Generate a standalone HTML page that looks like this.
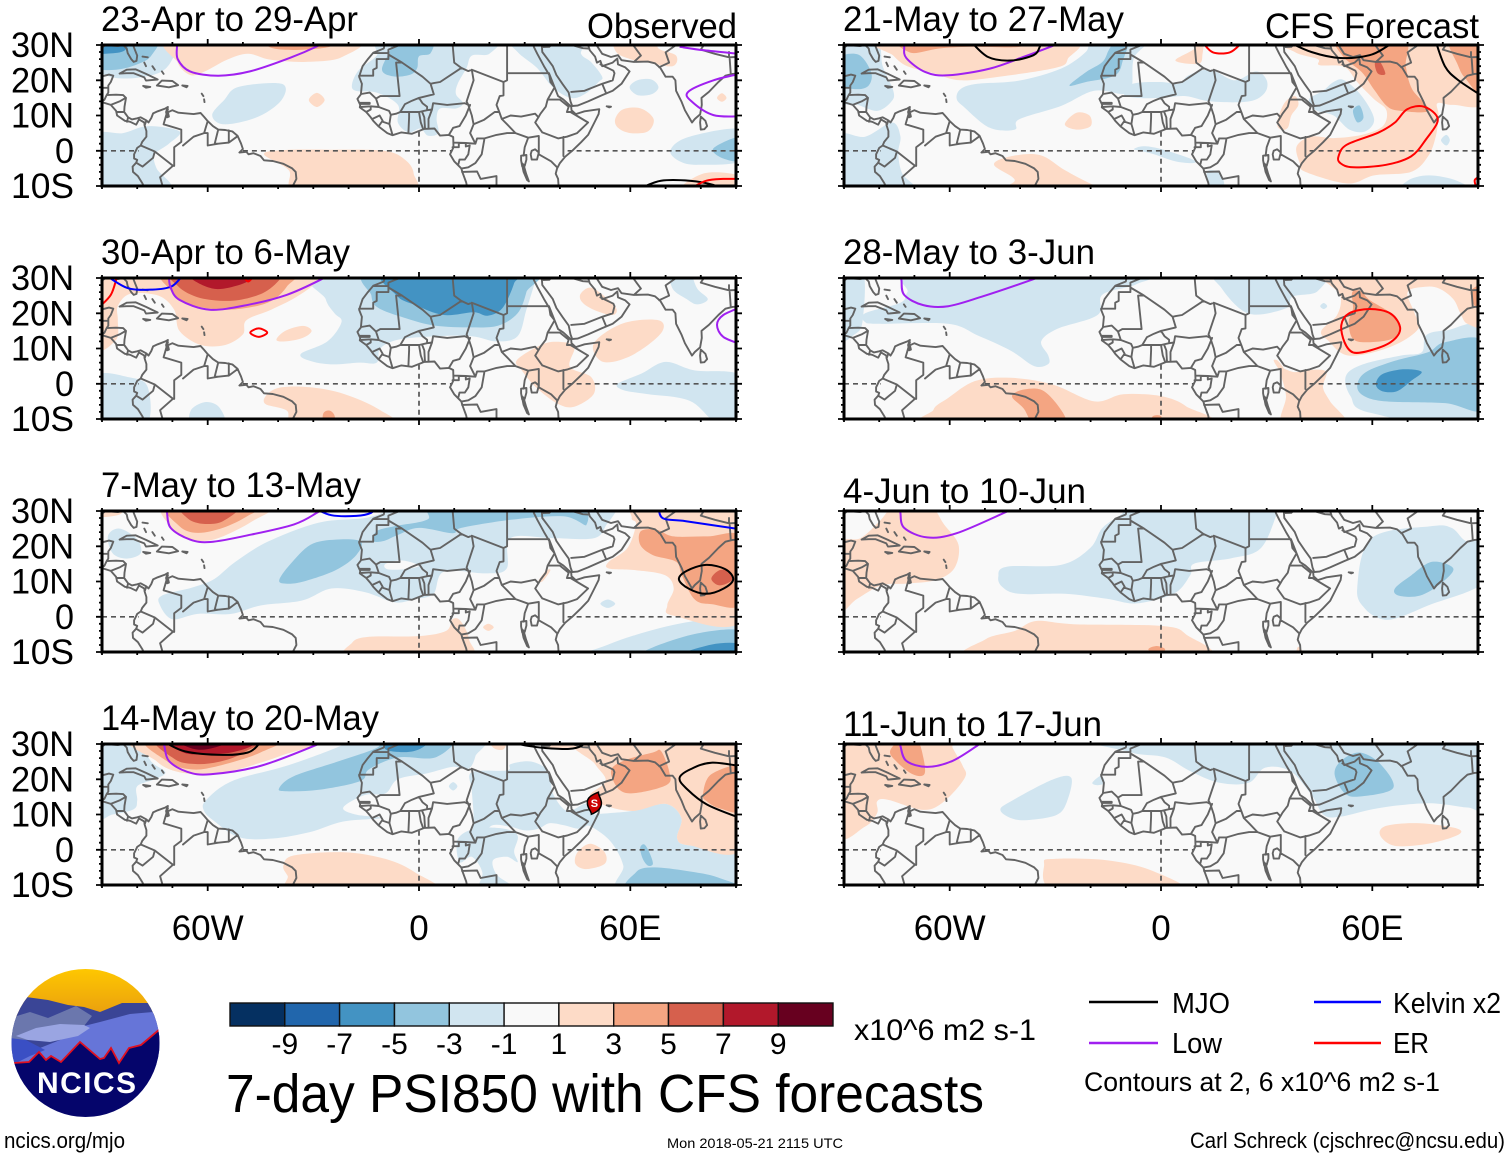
<!DOCTYPE html>
<html lang="en">
<head>
<meta charset="utf-8">
<title>7-day PSI850 with CFS forecasts</title>
<style>
html,body{margin:0;padding:0;background:#fff;}
svg{display:block;font-family:"Liberation Sans",sans-serif;}
</style>
</head>
<body>
<svg id="chart" xmlns="http://www.w3.org/2000/svg" width="1510" height="1158" viewBox="0 0 1510 1158">
  <rect x="0" y="0" width="1510" height="1158" fill="#ffffff"/>
  <g id="panels"></g>
  <g id="colorbar"></g>
  <text x="854" y="1040" font-size="30" textLength="182" lengthAdjust="spacingAndGlyphs">x10^6 m2 s-1</text>
  <text x="226" y="1112" font-size="54" textLength="758" lengthAdjust="spacingAndGlyphs">7-day PSI850 with CFS forecasts</text>
  <text x="667" y="1148" font-size="14" textLength="176" lengthAdjust="spacingAndGlyphs">Mon 2018-05-21 2115 UTC</text>
  <text x="4" y="1148" font-size="22" textLength="121" lengthAdjust="spacingAndGlyphs">ncics.org/mjo</text>
  <text x="1190" y="1148" font-size="22" textLength="315" lengthAdjust="spacingAndGlyphs">Carl Schreck (cjschrec@ncsu.edu)</text>

  <g>
    <line x1="1089" y1="1002" x2="1158" y2="1002" stroke="#000000" stroke-width="2.5"/>
    <text x="1172" y="1013" font-size="29" textLength="58" lengthAdjust="spacingAndGlyphs">MJO</text>
    <line x1="1314" y1="1002" x2="1381" y2="1002" stroke="#0000ff" stroke-width="2.5"/>
    <text x="1393" y="1013" font-size="29" textLength="108" lengthAdjust="spacingAndGlyphs">Kelvin x2</text>
    <line x1="1089" y1="1043" x2="1158" y2="1043" stroke="#a020f0" stroke-width="2.5"/>
    <text x="1172" y="1053" font-size="29" textLength="50" lengthAdjust="spacingAndGlyphs">Low</text>
    <line x1="1314" y1="1043" x2="1381" y2="1043" stroke="#ff0000" stroke-width="2.5"/>
    <text x="1393" y="1053" font-size="29" textLength="36" lengthAdjust="spacingAndGlyphs">ER</text>
    <text x="1084" y="1091" font-size="27" textLength="356" lengthAdjust="spacingAndGlyphs">Contours at 2, 6 x10^6 m2 s-1</text>
  </g>

  <g>
    <defs>
      <clipPath id="logoClip"><ellipse cx="85.5" cy="1043" rx="74" ry="74"/></clipPath>
      <linearGradient id="sky" x1="0" y1="0" x2="0" y2="1"><stop offset="0" stop-color="#ffc800"/><stop offset="1" stop-color="#e89c10"/></linearGradient>
    </defs>
    <g clip-path="url(#logoClip)">
      <rect x="10" y="968" width="152" height="50" fill="url(#sky)"/>
      <path d="M10 1003 L26 997 L48 1000 L68 1005 L84 1007 L100 1012 L122 1003 L150 1003 L162 1020 L162 1060 L10 1060Z" fill="#3a4596"/>
      <path d="M10 1018 L30 1012 L48 1018 L62 1012 L76 1006 L92 1016 L84 1026 L60 1036 L10 1042Z" fill="#6b77ad"/>
      <path d="M84 1026 L100 1022 L130 1014 L153 1012 L162 1030 L162 1070 L10 1070 L10 1062 L40 1048 L60 1040Z" fill="#6675d8"/>
      <path d="M16 1036 L36 1028 L60 1024 L84 1025 L90 1028 L78 1036 L50 1042 L28 1040Z" fill="#9aa5e2"/>
      <path d="M10 1038 L26 1040 L45 1050 L30 1056 L14 1064 L10 1064Z" fill="#3a4fc4"/>
      <path d="M10 1064 L29 1062 L39 1052 L46 1060 L51 1056 L61 1062 L80 1042 L100 1059 L104 1058 L111 1048 L119 1063 L129 1048 L141 1045 L160 1029 L162 1120 L10 1120Z" fill="#05056b"/>
      <path d="M13 1063 L29 1062 L39 1052 L46 1060 L51 1056 L61 1062 L80 1042 L100 1059 L104 1058 L111 1048 L119 1063 L129 1048 L141 1045 L160 1029" fill="none" stroke="#e01020" stroke-width="1.8"/>
    </g>
    <text x="37" y="1093" font-size="30" font-weight="bold" fill="#ffffff" textLength="99" lengthAdjust="spacing">NCICS</text>
  </g>
</svg>

<script>
/* ---- axis and colour-scale data ---- */
const lonMajorTicks = [-60, 0, 60];
const lonTickLabels = ["60W", "0", "60E"];
const latMajorTicks = [30, 20, 10, 0, -10];
const latTickLabels = ["30N", "20N", "10N", "0", "10S"];
const colorbarLabels = ["-9", "-7", "-5", "-3", "-1", "1", "3", "5", "7", "9"];
const colorbarLevels = [-10, -8, -6, -4, -2, 0, 2, 4, 6, 8, 10];
const levelColors = {"-10":"#053061","-8":"#2166ac","-6":"#4393c3","-4":"#92c5de","-2":"#d1e5f0","0":"#f9f9f9","2":"#fddbc7","4":"#f4a582","6":"#d6604d","8":"#b2182b","10":"#67001f"};
const seriesColors = {mjo:"#000000", low:"#a020f0", kelvin:"#0000ff", er:"#ff0000"};

/* ---- basemap in lon/lat ---- */
const coastLines = [
 [[-92,14.5],[-90,13.8],[-87.5,13],[-86,11.3],[-85.7,10],[-83.5,8.5],[-82,8.2],[-80.3,7.4],[-79.5,8.9],[-78,8],[-77.9,7.2],[-77.4,5.6],[-77.4,4],[-78.6,2.5],[-79,1.5],[-80,0.8],[-80.9,-1],[-80.9,-2.2],[-80,-2.6],[-80.3,-3.4],[-81.3,-4.5],[-81.2,-6],[-79.8,-7.2],[-78.5,-9.3],[-77.8,-11]],
 [[-92,18.6],[-90.6,19.8],[-90.3,21],[-88,21.6],[-86.8,21.3],[-87.5,19.5],[-88.2,18.5],[-88.2,16.5],[-88.7,15.8],[-86,15.9],[-84,15.8],[-83.2,15],[-83.6,12.5],[-83.7,11],[-82.6,9.5],[-81.5,8.9],[-80,9.2],[-79,9.5],[-77.4,8.6],[-76.8,8],[-76,9.3],[-75.5,10.6],[-74.2,11.2],[-72,12],[-71.3,12.4],[-71.8,11],[-71.5,9.5],[-71,9.7],[-71.3,10.9],[-70,11.5],[-68.3,10.8],[-66,10.6],[-64,10.4],[-62,10.7],[-61,9.6],[-60,8.4],[-58.5,7],[-57,6],[-55,5.9],[-53,5.5],[-51.5,4.2],[-50.5,2],[-50,0.5],[-51,-0.5],[-49,-0.3],[-48.4,-1],[-47,-0.7],[-45,-1.5],[-44,-2.7],[-41.5,-2.9],[-38.5,-3.7],[-36,-5],[-35,-6],[-34.8,-8],[-35.7,-9.7],[-37,-11]],
 [[-92,29.5],[-90,29.2],[-89,30],[-85.5,29.7],[-84,30],[-83,29],[-82.7,27.7],[-81.7,26],[-81,25.2],[-80.2,25.5],[-80,27],[-81,29.5],[-81.3,31]],
 [[-85,21.9],[-83,23],[-80.5,23.1],[-77.5,21.8],[-74.2,20.2],[-77.5,19.9],[-78,20.8],[-81,22],[-83,22],[-85,21.9]],
 [[-74.4,18.5],[-73,19.9],[-70,19.8],[-68.4,18.6],[-71,18],[-74.4,18.5]],
 [[-78.3,18.4],[-76.3,18.1],[-77.5,17.9],[-78.3,18.4]],
 [[-67.2,18.5],[-65.7,18.4],[-66,18],[-67.2,18.5]],
 [[-78.5,26.7],[-77,26.5]],[[-78,25],[-77.5,24]],[[-75.7,24],[-75,23]],[[-73,22.5],[-72.5,21.8]],
 [[-61.7,16.2],[-61.2,15.5]],[[-61,14.6],[-60.9,13.8]],
 [[-9.6,31],[-9.8,30],[-10,29],[-13,27.8],[-14.5,26],[-16,24],[-17,21],[-16.2,19],[-16.5,16],[-17.5,14.7],[-16.7,13],[-16.8,12.3],[-15,11],[-13.7,9.5],[-13,8.5],[-11.5,6.9],[-9,5],[-7.5,4.4],[-5,5.2],[-2,4.8],[0,5.6],[1.5,6.2],[4.4,6.3],[6,4.3],[8.5,4.5],[9.7,3.9],[9.8,1],[9.3,0],[8.8,-1],[10,-3],[12,-5],[12.3,-6],[13.4,-9],[13.8,-11]],
 [[32.6,31],[32.6,29.5],[33.6,27.5],[35.5,24],[37,21.5],[37.3,19.5],[38.5,18],[39.5,15.5],[41,14.5],[43.2,12.5],[43.3,11.5],[44.5,10.4],[47,11.2],[51.2,11.8],[51,10.4],[49.8,8],[48,4.5],[46,2.4],[43.5,0],[41.5,-1.7],[40,-3.5],[39.2,-5],[38.8,-6.5],[39.5,-8],[39.7,-11]],
 [[34.9,29.5],[35,28],[36.5,26],[38,24],[39,21.5],[40.7,19],[42.5,16.5],[43,14],[43.5,12.7],[45,12.8],[48,14],[52,15.8],[55,17],[57.5,19],[59.8,22.5],[58.5,23.7],[56.5,24.5],[56.3,26.2],[55,25],[52,24],[51.5,25.5],[50.5,25],[50,26.7],[48.5,28.5],[48,30],[49,30.3],[50.5,29.8],[52,27.5],[54.5,26.6],[56.5,27.1],[57.5,25.7],[61,25.2],[65,25.3],[67,24.8],[68.5,23.5],[70,21],[72,21],[72.8,20],[73,17],[74.5,14],[75.5,11.5],[77.5,8],[78.3,9],[79.8,10.3],[80.3,13],[80.2,15],[82.3,16.7],[85,19.5],[87,21.3],[89,21.8],[92,22]],
 [[80,9.7],[81.3,8.5],[81.8,7],[81,6.1],[80,6],[79.8,8],[80,9.7]],
 [[53.3,12.6],[54.5,12.5],[54,12.3],[53.3,12.6]],
 [[32,0],[33,0.4],[34,-0.5],[33.5,-2.5],[32,-2.5],[31.7,-1],[32,0]],
 [[29.2,-3.5],[29.7,-6],[30.7,-8.3],[31.2,-8.7],[30.4,-6.5],[29.7,-4],[29.2,-3.5]]
];
const borderLines = [
 [[-13,27.7],[-8.7,27.7],[-8.7,26],[-12,26],[-12,23.5],[-13,23],[-13,21.3],[-17,21.3]],
 [[-8.7,27.3],[-4.8,25],[-6.5,25],[-5.5,15.5],[-11,15.5],[-12.2,14.8],[-14,16.5],[-16.4,16.1]],
 [[-4.8,25],[1,21],[3.3,19],[4.2,19.2],[6,19.5],[12,23.5],[14,22.6],[15,23],[24,19.5],[25,20],[25,22]],
 [[25,31],[25,22],[36.9,22]],
 [[24,19.5],[24,15.7],[22.9,15.5],[22,13],[22.8,11],[23.5,9]],
 [[9.5,30.5],[10,25],[12,23.5]],
 [[-8.7,27.7],[-8.7,28.7],[-5.5,30],[-4,31]],
 [[15,23],[15.5,20],[13.5,14],[14,13],[13,13.5],[8,13],[4,13.5],[3.7,11.7],[2.7,9],[2.7,6.3]],
 [[3.3,19],[4.2,16],[0,15],[-2,14.2],[-4,13.2],[-5.3,11],[-2.8,11],[0,11],[2.3,11.5],[3.7,11.7]],
 [[-12.2,14.8],[-11.4,12.4],[-8.5,11.3],[-8,10.2],[-6.5,10.5],[-5.3,11]],
 [[1.7,6.2],[1.5,9.5],[0.9,11]],
 [[1.2,6.1],[0.5,8],[0,11]],
 [[-3,5],[-2.8,9.5],[-2.8,11]],
 [[0,15],[1,13.5],[2.3,12.5],[2.3,11.5]],
 [[-7.5,4.4],[-8.4,7.6],[-10.5,8.3],[-11.5,6.9]],
 [[-8.4,7.6],[-8,10.2]],
 [[-16.7,12.4],[-13.7,12.6],[-13.7,11.7],[-15,11]],
 [[-16.8,13.6],[-14,13.6],[-14,13.3],[-16.8,13.3]],
 [[-13.7,12.6],[-11.4,12.4]],
 [[-13.3,9],[-11.2,10],[-10.3,8.5]],
 [[8.5,4.5],[9.7,6.5],[11.5,7],[13.3,10],[14.5,13]],
 [[14,13],[15,10],[15.5,7.5],[18.5,8.8],[21.5,11],[22.8,11]],
 [[15.5,7.5],[14.5,5],[16,2],[16.5,3.5],[18.6,3.5],[22,4.5],[25,5],[27.4,5],[25,7.5],[23.5,9],[26,10],[29,9.7],[33,10.5],[33.9,9.5]],
 [[36.9,22],[38.5,18],[36.5,14.5],[36,12.5],[34.5,10.5],[33.9,9.5],[33,8],[35,5.2]],
 [[36.5,14.5],[40,14.5],[42.5,12.5]],
 [[42.5,12.5],[42,11],[43,11],[48,8],[44.9,5],[42,4]],
 [[35,5.2],[39.5,3.5],[42,4]],
 [[41,3.9],[41,-1.5]],
 [[34,4.2],[34,1],[34,-1],[37.5,-3],[39.2,-4.7]],
 [[31,3.7],[34,4.2]],
 [[27.4,5],[31,3.7],[30,1],[29.7,-1.4]],
 [[29,-1.4],[30.5,-1.2],[30.5,-2.5],[30,-4.3],[29.3,-4.4],[29,-2.7],[29,-1.4]],
 [[18.6,3.5],[17.8,-1],[16,-3.5],[14,-4.7],[12.2,-5]],
 [[9.8,2.3],[13.3,2.2],[13.3,1.2],[14.4,1.5],[14,-1],[13,-2.5],[11.5,-2.5],[11.2,-3.8]],
 [[11.3,2.2],[11.3,1],[9.5,1]],
 [[13.3,2.2],[16,2]],
 [[12.2,-6],[16.5,-5.9],[17.5,-8],[22,-7.2],[22,-11]],
 [[43.2,16.7],[47,17],[52,19],[55,20],[55.5,22],[55.2,22.7],[51.5,24.5]],
 [[52,19],[53,16.6]],
 [[34.9,29.4],[37,29.5],[38,30.5]],
 [[38,30.5],[40,31],[46.5,29.1],[48,29]],
 [[48,30],[47.5,31]],
 [[61,25.2],[63,27],[61,29.7],[60.8,31]],
 [[60.8,29.9],[66,29.9],[67,31]],
 [[68.2,23.7],[71,25],[70,27.9],[73,30],[74.5,31]],
 [[80,28.7],[84,27.5],[88,26.5],[88,28]],
 [[88.2,26],[88.5,22]],
 [[88,26.5],[90,26.6],[92,26]],
 [[81,30.2],[80,28.7]],
 [[-92,17.8],[-88.2,17.9]],
 [[-88.7,15.8],[-89.3,14.5],[-90,13.8]],
 [[-87.5,13],[-85,14],[-83.3,15]],
 [[-85.7,11],[-83.7,11]],
 [[-82.9,8.2],[-82.6,9.5]],
 [[-77.9,7.2],[-77.4,8.6]],
 [[-71.3,11.8],[-72.5,7.5],[-67.5,6],[-67.5,2.5],[-69.5,1],[-69.5,-4.3],[-69.9,-4.2],[-75,-0.2],[-78.8,1.4]],
 [[-75,-0.2],[-75.5,-2],[-78.5,-4.5],[-80.3,-3.4]],
 [[-60,8.4],[-61,5],[-60,5],[-60,1.5],[-57,2],[-58,2],[-57,6]],
 [[-54,5.8],[-54,2.3],[-57,2]],
 [[-51.7,4],[-54,2.3]],
 [[-61,5],[-64,4],[-67,1.5]],
 [[-69.9,-4.3],[-73.5,-7.5],[-72.5,-11]]
];
const equatorSegments = [[-90,-79.6],[-50,9.4],[42.2,90]];
const primeMeridianSpan = [5.4,-10];

/* ---- panel 1: 23-Apr to 29-Apr (level, lon/lat outline) ---- */
const panel1Fields = [
 [-2,[[-92,32],[-68,32],[-70,26],[-73,22.5],[-78,21],[-84,20.5],[-89,21.5],[-92,25]]],
 [-4,[[-92,32],[-75,32],[-76,27],[-80,24.5],[-86,23],[-92,24]]],
 [-6,[[-92,32],[-83,32],[-83.5,28.5],[-88,27.6],[-92,28]]],
 [-2,[[-92,4],[-84,5],[-77,7],[-68,5.5],[-71,2],[-75,-1],[-74.5,-5],[-71,-11],[-92,-11]]],
 [-2,[[-58.7,10.1],[-55.3,14.4],[-51.2,18.1],[-39,19],[-39,14.4],[-45.8,9.6],[-55.3,7.5]]],
 [-2,[[-19,19],[-17,23],[-12,27],[-10,32],[20.5,32],[20,27.5],[15,27],[13.5,23.5],[11,19],[10.5,16],[12.5,13.5],[10.5,12],[6,12],[5,9],[5.5,5],[2.5,4.3],[0.4,6.3],[-3,5.2],[-6,8],[-6,13],[-12,16.5],[-18,17]]],
 [-4,[[-10.5,23],[-8,29],[-8,32],[3.3,32],[3.3,27.7],[0,26.8],[-0.5,23.5],[-2.4,21.6],[-7.2,21.1]]],
 [-2,[[26.5,32],[28,28],[33.5,23.5],[38,18],[43,15],[47,16],[51,19.5],[52,21],[49,25],[46,27.5],[46,32]]],
 [-2,[[59.8,18],[62,20],[66,20.2],[68,18],[66,16],[62,15.8]]],
 [-2,[[92,6],[76.8,4],[71.4,0.2],[74,-3],[79.6,-4],[92,-2.6]]],
 [-4,[[92,4],[83.6,0.7],[86.4,-2.2],[92,-2.6]]],
 [2,[[56,32],[56,28],[60,26],[65,25],[72,24],[73,27],[68,29],[67,32]]],
 [2,[[-31.3,14.4],[-29,16.4],[-26.8,14.4],[-29,12.4]]],
 [2,[[55.7,9],[58,11.8],[63,12],[66.6,9],[65,5.5],[60,5],[56.5,6.5]]],
 [2,[[84.6,15],[86,16.3],[87.3,15],[86,13.9]]],
 [2,[[-44,-1],[-38,0.2],[-25,0.3],[-10,0],[-4,-2.5],[-1.5,-6.5],[-3,-12],[-34,-12],[-37,-5.5]]],
 [2,[[-69,32],[-68.5,25],[-65,21.5],[-61,22.4],[-54.5,25.8],[-48.5,27.5],[-42,25.8],[-32,25.2],[-22,26.5],[-19,32]]],
 [4,[[-43,32],[-42,29.2],[-34,28.6],[-25,29.6],[-25,32]]],
 [2,[[74,-12],[81,-6.4],[92,-7.4],[92,-12]]]
];
const panel1Contours = [
 ["low",false,[[-69,31],[-68.7,30],[-68.5,26],[-65,22.5],[-57,21.3],[-48,22.5],[-36.5,26.4],[-29,29.6],[-27,31]]],
 ["low",false,[[92,22],[83.6,20],[76.4,16.7],[77.5,13.9],[83.6,10.1],[92,9.8]]],
 ["low",false,[[74,29.5],[81,28.5],[92,27.4]]],
 ["mjo",false,[[63.2,-10.5],[68.7,-8.5],[76.8,-8.5],[83.6,-9.7],[85,-11]]],
 ["er",false,[[77.5,-10.5],[81.6,-8.5],[86.4,-8],[92,-8]]]
];

/* ---- panel 2: 30-Apr to 6-May ---- */
const panel2Fields = [
 [-2,[[-27.5,32],[-26.5,24],[-24,20],[-22,17.5],[-26,12],[-33.5,8.5],[-31,6.5],[-25,5.5],[-17,6],[-12,6],[-11,10],[-6,12.5],[5,13.5],[15,13.5],[22,12],[28,13.5],[30.5,21],[33,29],[34,32]]],
 [-4,[[-13,32],[-13.5,25],[-11.5,21.5],[-3.5,18.5],[4.5,16.5],[15,16],[22.5,16.5],[28,20],[30.5,26],[31.5,32]]],
 [-6,[[-9,32],[-6.3,25],[-1,22.3],[7,19.5],[15.5,20.3],[19.5,19.3],[23.7,21.5],[27,28.5],[27,32]]],
 [-2,[[71.5,32],[72,27],[76,24],[79,22.5],[82,24],[79,27],[76.5,32]]],
 [-2,[[56.4,0],[63.2,2.9],[70,6.2],[78.2,3.8],[92,1.9],[92,-12],[84.3,-11],[76.8,-4.8],[64.6,-2.9],[58,-1.8]]],
 [-2,[[-92,1.9],[-82.6,1.9],[-77,-1],[-77.8,-12],[-92,-12]]],
 [-2,[[-64.8,-7.6],[-60.7,-5.2],[-56.7,-6.7],[-55.3,-12],[-64.2,-12]]],
 [2,[[-28,32],[-29.5,28.5],[-35,24.5],[-42,21],[-49,18],[-50,14],[-55,11],[-62,11],[-68,15],[-69.5,21],[-74,25],[-82,25.5],[-85.5,22],[-85.5,18],[-86,12.5],[-92,10.5],[-92,32]]],
 [2,[[-40.5,12.5],[-38,15],[-33,16.4],[-30.5,15],[-33,13],[-38,12]]],
 [4,[[-71,32],[-70.5,26.5],[-65,22.5],[-54,21],[-43,23],[-37.5,27.6],[-37,32]]],
 [6,[[-69,32],[-68.3,27.6],[-62,24.3],[-52.6,23.6],[-44.4,25.7],[-39.6,29.5],[-39,32]]],
 [8,[[-65,32],[-64.2,29.5],[-58,26.9],[-51.2,28],[-47,30],[-46,32]]],
 [2,[[-43.7,-5.7],[-43,-2.9],[-39,-1],[-30.8,-1],[-21.3,-2.9],[-11.7,-7.1],[-7,-12],[-34,-12],[-37.6,-7.6]]],
 [4,[[-27,-12],[-27.2,-8.5],[-25.5,-7.6],[-24,-9],[-24,-12]]],
 [2,[[46,25.7],[49.4,27.1],[55.7,21.9],[55,19.5],[49.6,21],[46.2,23.3]]],
 [2,[[49.6,11.4],[57.8,17.1],[68,18],[68.7,14.3],[60.5,8.1],[52.3,6.2]]],
 [2,[[27.8,6.7],[34.6,11],[39.4,11.9],[44.1,10.5],[42.8,4.8],[48.9,1.9],[49.6,-2.9],[44.1,-6.5],[39.4,-5.7],[33.2,-1],[29.2,3.8]]]
];
const panel2Contours = [
 ["er",false,[[-90.5,22],[-87.5,25.2],[-86,29.5],[-85.8,31]]],
 ["er",true,[[-47.9,14.5],[-45.5,15.7],[-43.1,14.5],[-45.5,13.3]]],
 ["er",false,[[-49.9,30.5],[-48.5,29],[-47,30.5]]],
 ["kelvin",false,[[-88.5,30.5],[-82.6,27.1],[-75.7,26.7],[-70.3,27.6],[-67.3,30.5]]],
 ["low",false,[[-71,31],[-70.6,27.6],[-68,23.8],[-59.4,21],[-48.5,22.4],[-37.6,25.2],[-28,29.5],[-26,31]]],
 ["low",false,[[92,22],[86.4,19.5],[84.6,16.7],[86.4,13.3],[92,11]]]
];

/* ---- panel 3: 7-May to 13-May ---- */
const panel3Fields = [
 [-2,[[-88.3,23],[-85,25],[-80,22],[-79,18],[-83,16.5],[-87,18]]],
 [-2,[[-73.5,3.2],[-73,6],[-64,8.4],[-58,10.8],[-52.1,15.6],[-42.7,21.4],[-28.4,26.7],[-15.4,28],[-9.5,30],[-8,32],[57,32],[55.7,29.5],[53.3,26.2],[49.8,22.3],[37.9,22.3],[26,22.3],[24.9,13.7],[19,12.3],[7.1,12.8],[4.1,6.5],[-1.2,5],[-7,4.1],[-15.4,7],[-24.9,8],[-33.2,4.6],[-45,3.2],[-53.3,0.8],[-62.8,0.8],[-70,-0.7]]],
 [0,[[-9.5,15],[-5,16],[0,14.5],[-4,13.5],[-9,13.5]]],
 [-4,[[-39.7,10.4],[-36.7,14.7],[-30.8,20.4],[-23.7,21.9],[-16.6,21.4],[-17.8,17.5],[-23.7,13.2],[-33.2,9.9],[-37.9,9.4]]],
 [-4,[[-13,21.5],[-12,24.3],[-7,25.7],[2.4,27.6],[5.5,32],[43,32],[47.5,26],[41,28.5],[26,27.5],[12,25.2],[9.5,23.7],[0,25.2],[-6,23.2],[-10,21.5]]],
 [-2,[[51.5,3.7],[53.6,4.9],[55.7,3.7],[53.6,2.5]]],
 [-2,[[40,-12],[49.8,-9.3],[60.4,-5.5],[75.8,-1.6],[92,-0.2],[92,-12]]],
 [-4,[[62,-12],[75.8,-5.5],[92,-4],[92,-12]]],
 [-6,[[72,-12],[83,-7.9],[92,-7.9],[92,-12]]],
 [2,[[-71.5,32],[-70,25],[-65.7,22],[-58,22],[-47.5,27],[-42,32]]],
 [2,[[-92,32],[-84,32],[-85,29],[-92,28.5]]],
 [4,[[-71,32],[-68,25.7],[-62.8,23.8],[-55.7,25.2],[-48.6,28.6],[-45,32]]],
 [6,[[-67.5,32],[-65.8,28],[-61.6,26.4],[-55.7,27.1],[-51,32]]],
 [2,[[-19.5,-12],[-19,-7.4],[-14.2,-5.7],[0,-5.5],[7.7,-4],[9.5,-0.7],[11.8,-1.2],[14.2,-6.4],[13,-12]]],
 [2,[[18.2,-3],[19.7,-2],[21.2,-3],[19.7,-4]]],
 [2,[[33.8,10],[36,13],[37.3,13.2],[35.5,10.5],[34.5,9.8]]],
 [2,[[60.4,28],[63,32],[92,32],[92,-0.7],[72.3,0.3],[70.5,3.2],[72.3,8],[69.9,11.8],[61.6,13.2],[53.9,13.7],[53.9,15.6],[59.2,19.5],[61.6,26.2]]],
 [4,[[63,24.3],[67.5,24.7],[72.3,22.8],[81.8,22.8],[92,22.3],[92,4.1],[83,3.6],[78.2,5],[74.6,11.8],[73,15.6],[66.4,17.5],[62.8,20.4]]],
 [6,[[83,10.8],[85.3,13.2],[88.3,12.8],[88.9,10.4],[85.3,8.9]]]
];
const panel3Contours = [
 ["low",false,[[-72,31],[-71.6,30],[-70.5,25.2],[-65,21.9],[-59.2,21.2],[-48.6,23.1],[-35.5,26.2],[-29,29.5],[-27,31]]],
 ["kelvin",false,[[-30,31],[-24.9,28.8],[-17.8,28.6],[-13.6,29.5],[-12.5,31]]],
 ["kelvin",false,[[68,31],[69.3,27.9],[75.8,27.1],[92,24.7]]],
 ["mjo",true,[[73.8,10.6],[76,13],[81.5,14.7],[87,13.5],[89.2,10.6],[86.5,8],[81.5,6.5],[76.5,8]]]
];

/* ---- panel 4: 14-May to 20-May ---- */
const panel4Fields = [
 [-2,[[-92,32],[-81,32],[-76,25],[-72,22],[-75,20],[-80,18],[-80,14],[-81,11.5],[-87,10],[-92,10]]],
 [-2,[[-61,11],[-60.5,14],[-53,19.5],[-37,24],[-21,30],[-20,32],[16.5,32],[16,26.5],[14,23],[9.5,23.5],[2.4,21.7],[-6,20],[-9.5,16],[-15.5,15.5],[-21.5,12],[-18,10],[-10.5,9],[-21.5,8],[-31,5],[-41.5,3.2],[-51,3.5],[-58,8]]],
 [-2,[[15,22],[25,22.5],[26,24.3],[32,25],[37,22],[38,16],[42,11],[47,13],[50,12.5],[49,8.5],[46,6],[41,7],[37,7.5],[34,6],[30,5.5],[26,6.5],[21,7],[18,4.5],[15.5,5],[15.5,10],[15,17]]],
 [-2,[[11,3],[16,6],[24,6],[28,4],[27,-0.5],[28,-3.5],[25,-2],[21,-3],[22,-7],[26,-10],[26,-12],[17,-12],[18,-6.5],[15,-2],[11.5,-3.5]]],
 [-2,[[50,10],[60.5,11],[70,13],[74.5,9],[73.3,3.2],[77,1.2],[92,0.8],[92,-12],[58,-12],[58,-4.5],[54.5,2.2],[49,6.5],[46,7],[47,9]]],
 [-4,[[62.8,0.5],[64,1.5],[65.5,-1],[66.4,-4],[65,-4.5],[63.5,-2.5]]],
 [-4,[[60.5,-12],[61.6,-6.4],[66.4,-5],[75.8,-6],[85,-7.9],[92,-12]]],
 [2,[[45,-0.7],[48.6,1.7],[52.7,-0.7],[52.7,-4],[47.4,-5.5],[44.4,-4]]],
 [2,[[-38.5,-4.5],[-35.5,-1.6],[-21.3,-0.7],[-9.5,-2.6],[-1.2,-6.4],[4,-12],[-34.4,-12],[-37.3,-7.4]]],
 [2,[[20,32],[21,29],[24,28.5],[25,32]]],
 [2,[[34,32],[36,29],[42,28.6],[46,30],[46,32]]],
 [2,[[45,32],[50,24.3],[53,19.5],[48.5,15.5],[51.5,13],[60.5,11],[70,13],[74.5,9],[73.3,3.2],[77,1.2],[92,0.8],[92,32]]],
 [4,[[54.5,22.3],[58,25.2],[66.4,27.6],[68.7,28],[71,22.3],[70.5,18.5],[61.6,16.1],[56.9,17]]],
 [4,[[80.6,15.6],[83,21.4],[92,23.3],[92,11.3],[85.3,11.8],[81.8,13.7]]],
 [2,[[-80,32],[-74.6,25.2],[-69.3,22.3],[-61.6,21.4],[-53.3,22.3],[-39.1,26.7],[-27,32]]],
 [4,[[-76.5,32],[-71.7,25.2],[-64.6,22.8],[-56.9,23.8],[-45,27.6],[-40,32]]],
 [6,[[-74,32],[-69.3,25.7],[-62.8,24.3],[-55.7,25.2],[-49.8,27.6],[-45,32]]],
 [8,[[-72,32],[-66.9,27.6],[-60.4,27.1],[-53.3,27.6],[-47.4,29.5],[-46,32]]],
 [10,[[-69.5,32],[-64,28.6],[-58,29],[-52,32]]],
 [-4,[[-39.7,17.5],[-35.5,20.9],[-22.5,25.2],[-11.8,29],[-10,32],[9.5,32],[4.7,26.2],[-5.9,26.2],[-14.2,22.8],[-16.6,19.5],[-28.4,17],[-37.9,16.6]]],
 [-6,[[-9.5,28.5],[-8,32],[3,32],[1,29],[-3.5,27.7]]],
 [-2,[[8.5,18],[9.7,19.2],[10.9,18],[9.7,16.8]]]
];
const panel4Contours = [
 ["low",false,[[-72.6,31],[-72.3,29.5],[-71,25.2],[-65.8,22.1],[-59.2,21.4],[-45,23.8],[-29,29.8],[-27,31]]],
 ["mjo",false,[[-73,31],[-66.4,27.9],[-55.7,26.9],[-48.6,27.6],[-45.6,29.8],[-45,31]]],
 ["mjo",false,[[26,30.5],[30.8,29.5],[35.5,28.9],[42.7,28.6],[46.2,29.5],[47,31]]],
 ["mjo",false,[[92,23.6],[83,24.7],[77,22.8],[74,20.4],[75.8,17.5],[81.8,12.8],[92,8.7]]]
];
const panel4Storms = [{lon:49.8,lat:13.2,label:"S"}];

/* ---- panel 5: 21-May to 27-May ---- */
const panel5Fields = [
 [-2,[[-92,32],[-81,32],[-79,24],[-76,17],[-76.5,14],[-80.5,11.3],[-86,13],[-92,15]]],
 [-4,[[-92,26],[-86,27.3],[-82.3,22.3],[-83,18.5],[-86.5,17.5],[-92,19]]],
 [-2,[[-56.9,17.5],[-52.1,19],[-40.3,19.9],[-28.4,23.3],[-21.3,28.1],[-19,32],[-3.6,32],[-7.7,26.3],[-8.3,18.1],[-10.7,16.1],[-19,17],[-28.4,12.7],[-40.3,8.9],[-41.5,6],[-48.6,6.5],[-55.7,12.2],[-58,14.7]]],
 [-4,[[-26,18.5],[-21.3,22.3],[-16.6,25.2],[-14.8,28.6],[-12.5,32],[-9,32],[-10.7,26],[-13,21.4],[-21.3,19.5]]],
 [-2,[[-10.5,16],[-8,19],[0,19.5],[5,19],[8,21.5],[14,23],[21,20],[27,22.5],[30,20],[29.5,16.5],[25,14],[14,14],[7,15.5],[0,15],[-7,15]]],
 [-2,[[42,14.5],[46,17],[49,19.5],[52,20],[57,15.5],[60.5,9],[58,5.5],[53.5,6],[49,10],[44,11.5]]],
 [-4,[[54.5,11.4],[56.4,12.8],[57.5,9.4],[55.7,8.1]]],
 [-2,[[-92,4],[-84,4],[-76.4,8],[-74,4.1],[-74.6,-0.7],[-73.5,-6.4],[-70,-12],[-92,-12]]],
 [-2,[[-7.7,0.5],[-5,1.3],[0,0.5],[9,-2.5],[9,-3.5],[4,-3],[-2,-1],[-6,0]]],
 [-2,[[13,-6],[17,-6.5],[18,-12],[15,-12]]],
 [2,[[36,32],[38,28],[44.5,26],[45,24.3],[52,23.8],[55.7,19.5],[60.4,14.7],[64,11.5],[63,7],[57,4.5],[49,3.6],[42.5,4],[38.5,1.2],[39.4,-3.5],[41,-6],[53,-9.3],[60.5,-7],[71,-6],[75.8,-1.6],[78,4],[78.8,10],[78.5,13.5],[83,13],[92,14],[92,32]]],
 [-2,[[79.5,3],[81,4.5],[82,3],[81,1.5]]],
 [-2,[[68.7,-12],[70,-8.5],[76,-7],[84,-8.5],[88,-12]]],
 [2,[[-80,32],[-76,27],[-72,24],[-64.5,22],[-57,20],[-46,21],[-30,23.5],[-26.5,26],[-27,32]]],
 [4,[[-73,32],[-71,27.8],[-63,29],[-54,29.5],[-40,29.5],[-40,32]]],
 [4,[[50.5,32],[51.5,27],[57,22.3],[60.4,17.5],[64,12.8],[67.5,11.4],[76,11.4],[71.3,17.5],[69.5,24],[68.7,32]]],
 [4,[[81.8,32],[84.3,24.3],[86.5,20.4],[92,15.5],[92,32]]],
 [6,[[60.7,24.7],[61.9,25.7],[63.7,21.9],[61.6,21.9]]],
 [2,[[-27.3,7.5],[-24,10.8],[-20.3,10],[-20,7],[-24,6]]],
 [2,[[33,8],[35,13.5],[38,15.5],[39,13],[37,10],[36,6.5],[34,6]]],
 [2,[[4.1,25.6],[9.5,29],[9.5,32],[12,32],[11.8,27.6],[10.7,24.7]]],
 [2,[[-47.4,-4],[-42.7,-1.6],[-34.4,-1.2],[-27.3,-5.5],[-20.1,-9.3],[-14,-12],[-45,-12],[-41.5,-8.3]]]
];
const panel5Contours = [
 ["low",false,[[-73,31],[-72.9,29.5],[-72.3,26.3],[-66.9,22.3],[-60.4,21.4],[-48.6,23.3],[-39.1,26.6],[-31.4,29.5],[-28,31]]],
 ["mjo",false,[[-54,31],[-49.1,26.6],[-42.7,25.6],[-36.2,27.1],[-34.4,29.5],[-34,31]]],
 ["mjo",false,[[36,31],[42.7,28],[50.9,26.3],[59.2,27.1],[64,29.5],[66,31]]],
 ["mjo",false,[[78,31],[80.6,24],[84.3,20.1],[92,15]]],
 ["er",false,[[12,30.5],[14.8,27.9],[19.5,27.9],[22.8,30.5]]],
 ["er",true,[[50.4,-1.6],[52.7,1.7],[61.6,5.1],[66.4,8],[69.9,11.8],[74.7,12.5],[78.6,8.9],[75.2,3.2],[71,-1.6],[63.9,-4],[54.5,-4.7],[50.9,-3.5]]],
 ["er",false,[[89.6,-10.5],[89.1,-8.3],[91,-7]]]
];

/* ---- panel 6: 28-May to 3-Jun ---- */
const panel6Fields = [
 [-2,[[-68,32],[-72,26],[-74,23],[-84,20],[-84,17.5],[-80,17],[-60.5,17],[-52,13.7],[-42.7,9.4],[-36,5],[-32,5.6],[-32,8],[-34,12],[-29.4,15.6],[-18,19.5],[-16.6,25.3],[-7,28.2],[-4.5,32]]],
 [-2,[[-92,32],[-84.7,32],[-84.7,18],[-87,14],[-92,13]]],
 [-2,[[16.6,32],[17.2,27.1],[24.9,19.9],[35.5,21.4],[37.3,24.7],[44.4,26.2],[45,32]]],
 [-2,[[45.2,22],[46.2,22.9],[47.2,22],[46.2,21.2]]],
 [-2,[[75.2,13.7],[80.9,15.1],[92,15.1],[92,-12],[59.7,-8.3],[53.8,-3.5],[52.5,2.2],[57.3,5.5],[68,8],[74,8.9]]],
 [-4,[[55.7,-0.7],[58,3.2],[66.4,6.5],[75.7,8.9],[80.7,11.8],[92,11.6],[92,-6.9],[80.7,-5.5],[64,-5],[57.7,-3.5]]],
 [-6,[[61,-0.2],[62.8,2.7],[68.7,4.1],[74,3.4],[71,0.8],[67,-2.1],[62.8,-2.1]]],
 [2,[[-64.6,-7.4],[-60.4,-4],[-52.7,0.8],[-42.7,1.7],[-30.8,-0.2],[-18.9,-5],[-10.7,-3],[0,-3.5],[7.1,-6.4],[11,-12],[-62.8,-12]]],
 [4,[[-42.3,-3.5],[-38.7,-1.6],[-33.2,-2.1],[-27.8,-8.3],[-27.5,-12],[-35.5,-12],[-39,-7]]],
 [4,[[-2.5,-12],[-2.4,-9.3],[0,-9.2],[0.3,-12]]],
 [2,[[48,32],[51,25],[50,19.5],[45.5,15],[47.4,12.3],[53.3,8],[65,10.4],[73,15.5],[72,20],[70,26],[75,27.5],[79,27],[83,24],[85,20],[87,17],[92,17],[92,32]]],
 [4,[[54.3,26],[56.9,26.2],[59.2,23.8],[67,18.5],[66.4,13.2],[59,11.8],[54.5,12.7],[53.3,17.5],[54.5,21.3]]],
 [4,[[88,25],[88.5,27],[92,28],[92,22],[89.5,21.5]]],
 [2,[[34,4],[38,3.3],[44,4],[47,3.2],[46,-1],[48,-5],[52.5,-12],[35,-12],[35.5,-3.5]]],
 [2,[[32,6.5],[33.2,6.5],[35,4],[34,3.5]]]
];
const panel6Contours = [
 ["low",false,[[-74,31],[-73.7,29.5],[-72.9,25.2],[-67.5,22.3],[-60.4,22],[-50.9,24.7],[-36.7,29.5],[-33,31]]],
 ["er",true,[[51.2,16.6],[53.3,19.9],[59.2,21.2],[65.2,19.9],[67.9,15.6],[65.2,11.8],[59.2,9.4],[54.5,8.9],[52.1,11.8]]]
];

/* ---- panel 7: 4-Jun to 10-Jun ---- */
const panel7Fields = [
 [2,[[-92,1.5],[-86.4,5],[-79.4,8.9],[-72.3,9.4],[-64,10.4],[-58.7,13.7],[-57.5,20.4],[-61.6,26.2],[-66,32],[-75,32],[-80,27],[-85.3,22.3],[-92,20]]],
 [-2,[[-46.2,11.3],[-43.8,14.2],[-28.4,14.7],[-20.1,19.5],[-16.6,25.2],[-10.7,29.5],[-9,32],[34,32],[33.2,30],[28.4,19.5],[20,16.6],[9.5,15.1],[8.3,11.8],[3.6,6.5],[-7,3.8],[-15.4,5.1],[-27.3,6.5],[-40.3,6.5],[-45,8.4]]],
 [-2,[[55.7,8],[59.8,22.3],[76.6,25.7],[82.5,25.2],[86.7,21.4],[92,21.4],[92,10],[75.8,3.2],[67.5,-0.2],[62.8,-0.7],[58,2.2]]],
 [-4,[[66.4,8],[71.1,11.8],[77,15.6],[83,13.7],[79.4,9.4],[73.5,6],[67.5,6]]],
 [2,[[-52.5,-12],[-49.8,-6.4],[-41.5,-4],[-35.5,-1.2],[-24.9,-2.1],[0,-2.6],[7.1,-5],[11,-12]]],
 [4,[[-3.6,-9.3],[-1.2,-8.3],[1.2,-9.3],[-1,-11]]],
 [2,[[38.5,-12],[39,-8.5],[41.5,-12]]]
];
const panel7Contours = [
 ["low",false,[[-74.2,31],[-74,29.5],[-72.9,25.2],[-66.4,22.5],[-58,23.7],[-43.8,29.8],[-41,31]]]
];

/* ---- panel 8: 11-Jun to 17-Jun ---- */
const panel8Fields = [
 [2,[[-92,4.5],[-84.1,6.5],[-80.6,10.4],[-80.6,13.7],[-77.6,14.2],[-67.5,11.3],[-61.6,13.7],[-55.7,20.4],[-56.3,23.8],[-59.2,29],[-60,32],[-92,32]]],
 [4,[[-76.9,28],[-74,31],[-69.3,31],[-67.5,26.2],[-67.2,21.4],[-70.5,21.4],[-75.3,25.2]]],
 [-2,[[-14,32],[-8.3,27.6],[1.2,26.2],[8.3,22.3],[16.6,19],[24.9,19],[29.6,23.3],[36.7,22.3],[42.7,15.6],[46.2,9.9],[51,9.4],[61.6,11.8],[75.8,13.2],[87,12],[92,12.3],[92,32]]],
 [-4,[[49.3,21.4],[51.1,25.2],[56.4,27.6],[62.3,24.3],[65.9,17.5],[56.4,15.1],[52.1,16.1]]],
 [-2,[[-19.5,19],[-17,21],[-16,19],[-18,18.3]]],
 [-2,[[-45.6,11.3],[-42.7,13.7],[-30.8,19.9],[-25.5,20.4],[-26.7,13.7],[-29.6,9.9],[-37.9,8.4],[-42.7,9]]],
 [2,[[62.2,4.1],[64,6.8],[73.5,7.5],[84.1,6],[84.1,4.1],[75.8,1.7],[66.4,1.1]]],
 [2,[[-33.2,-4],[-30.2,-2.6],[-15.4,-3],[-2.4,-6],[6,-12],[-29,-12]]]
];
const panel8Contours = [
 ["low",false,[[-74.2,31],[-74,29.5],[-72.3,25.2],[-66.4,23.5],[-59.2,25.2],[-51.5,30],[-49,32]]]
];

/* ---- panel layout ---- */
const panels = [
 {name:"observed-week-1",title:"23-Apr to 29-Apr",titleW:257,titleY:31,x:102,y:45,fields:panel1Fields,contours:panel1Contours,note:"Observed",noteW:150},
 {name:"observed-week-2",title:"30-Apr to 6-May",titleW:249,titleY:264,x:102,y:278,fields:panel2Fields,contours:panel2Contours},
 {name:"observed-week-3",title:"7-May to 13-May",titleW:260,titleY:497,x:102,y:511,fields:panel3Fields,contours:panel3Contours},
 {name:"observed-week-4",title:"14-May to 20-May",titleW:278,titleY:730,x:102,y:744,fields:panel4Fields,contours:panel4Contours,storms:panel4Storms,lonLabels:true},
 {name:"forecast-week-1",title:"21-May to 27-May",titleW:281,titleY:31,x:844,y:45,fields:panel5Fields,contours:panel5Contours,note:"CFS Forecast",noteW:214},
 {name:"forecast-week-2",title:"28-May to 3-Jun",titleW:252,titleY:264,x:844,y:278,fields:panel6Fields,contours:panel6Contours},
 {name:"forecast-week-3",title:"4-Jun to 10-Jun",titleW:243,titleY:503,x:844,y:511,fields:panel7Fields,contours:panel7Contours},
 {name:"forecast-week-4",title:"11-Jun to 17-Jun",titleW:259,titleY:736,x:844,y:744,fields:panel8Fields,contours:panel8Contours,lonLabels:true}
];

const NS = "http://www.w3.org/2000/svg";
const PANEL_W = 634, PANEL_H = 141;

function make(tag, attrs, parent) {
  const el = document.createElementNS(NS, tag);
  for (const k in attrs) el.setAttribute(k, attrs[k]);
  if (parent) parent.appendChild(el);
  return el;
}
function xScale(panel, lon) { return panel.x + (lon + 90) * PANEL_W / 180; }
function yScale(panel, lat) { return panel.y + (30 - lat) * PANEL_H / 40; }
function project(panel, pts) { return pts.map(p => [xScale(panel, p[0]), yScale(panel, p[1])]); }
function f(n) { return n.toFixed(1); }

function smoothPath(pts, closed) {
  const n = pts.length;
  const at = i => closed ? pts[(i + n) % n] : pts[Math.max(0, Math.min(n - 1, i))];
  let d = "M" + f(pts[0][0]) + " " + f(pts[0][1]);
  const last = closed ? n : n - 1;
  for (let i = 0; i < last; i++) {
    const p0 = at(i - 1), p1 = at(i), p2 = at(i + 1), p3 = at(i + 2);
    const c1x = p1[0] + (p2[0] - p0[0]) / 6, c1y = p1[1] + (p2[1] - p0[1]) / 6;
    const c2x = p2[0] - (p3[0] - p1[0]) / 6, c2y = p2[1] - (p3[1] - p1[1]) / 6;
    d += "C" + f(c1x) + " " + f(c1y) + " " + f(c2x) + " " + f(c2y) + " " + f(p2[0]) + " " + f(p2[1]);
  }
  return d + (closed ? "Z" : "");
}
function straightPath(pts) {
  return "M" + pts.map(p => f(p[0]) + " " + f(p[1])).join("L");
}

const root = document.getElementById("panels");
const defs = make("defs", {}, root);

panels.forEach(function (panel, idx) {
  const clipId = "panelClip" + idx;
  const clip = make("clipPath", {id: clipId}, defs);
  make("rect", {x: panel.x, y: panel.y, width: PANEL_W, height: PANEL_H}, clip);

  const g = make("g", {}, root);
  
  

  const bg = make("rect", {x: panel.x, y: panel.y, width: PANEL_W, height: PANEL_H, fill: levelColors["0"]}, g);
  
  

  const inner = make("g", {"clip-path": "url(#" + clipId + ")"}, g);

  panel.fields.forEach(function (field) {
    const shape = make("path", {d: smoothPath(project(panel, field[1]), true), fill: levelColors[String(field[0])]}, inner);
    
    
  });

  equatorSegments.forEach(function (seg) {
    const eq = make("line", {x1: f(xScale(panel, seg[0])), x2: f(xScale(panel, seg[1])), y1: f(yScale(panel, 0)), y2: f(yScale(panel, 0)), stroke: "#555555", "stroke-width": 1.7, "stroke-dasharray": "5 4"}, inner);
    
    
  });
  const pm = make("line", {x1: f(xScale(panel, 0)), x2: f(xScale(panel, 0)), y1: f(yScale(panel, primeMeridianSpan[0])), y2: f(yScale(panel, primeMeridianSpan[1])), stroke: "#555555", "stroke-width": 1.7, "stroke-dasharray": "5 4"}, inner);
  
  

  const landPath = coastLines.concat(borderLines).map(line => straightPath(project(panel, line))).join("");
  const land = make("path", {d: landPath, fill: "none", stroke: "#636363", "stroke-width": 1.9, "stroke-linejoin": "round", "stroke-linecap": "round"}, inner);
  
  

  panel.contours.forEach(function (c) {
    const line = make("path", {d: smoothPath(project(panel, c[2]), c[1]), fill: "none", stroke: seriesColors[c[0]], "stroke-width": 2}, inner);
    
    
  });

  (panel.storms || []).forEach(function (s) {
    const sx = xScale(panel, s.lon), sy = yScale(panel, s.lat);
    const body = make("path", {d: "M" + (sx + 4) + " " + (sy - 11) + "C" + (sx - 1) + " " + (sy - 9) + " " + (sx - 8) + " " + (sy - 6) + " " + (sx - 7) + " " + sy + "C" + (sx - 7) + " " + (sy + 5) + " " + (sx - 3) + " " + (sy + 8) + " " + (sx - 3) + " " + (sy + 11) + "C" + (sx + 2) + " " + (sy + 9) + " " + (sx + 7) + " " + (sy + 6) + " " + (sx + 7) + " " + sy + "C" + (sx + 7) + " " + (sy - 5) + " " + (sx + 4) + " " + (sy - 7) + " " + (sx + 4) + " " + (sy - 11) + "Z", fill: "#cc0000", stroke: "#000000", "stroke-width": 1.5}, inner);
    
    
    const label = make("text", {x: sx, y: sy + 4, "font-size": 11, "font-weight": "bold", fill: "#ffffff", "text-anchor": "middle"}, inner);
    label.textContent = s.label;
    
    
  });

  /* ticks */
  let tick = "";
  for (let lon = -90; lon <= 90; lon += 10) {
    const major = lonMajorTicks.indexOf(lon) >= 0, len = major ? 6 : 3, x = f(xScale(panel, lon));
    tick += "M" + x + " " + panel.y + "V" + (panel.y - len) + "M" + x + " " + (panel.y + PANEL_H) + "V" + (panel.y + PANEL_H + len);
  }
  for (let lat = -10; lat <= 30; lat += 2) {
    const major = latMajorTicks.indexOf(lat) >= 0, len = major ? 6 : 3, y = f(yScale(panel, lat));
    tick += "M" + panel.x + " " + y + "H" + (panel.x - len) + "M" + (panel.x + PANEL_W) + " " + y + "H" + (panel.x + PANEL_W + len);
  }
  const ticks = make("path", {d: tick, stroke: "#000000", "stroke-width": 1.8, fill: "none"}, g);
  
  

  const frame = make("rect", {x: panel.x, y: panel.y, width: PANEL_W, height: PANEL_H, fill: "none", stroke: "#000000", "stroke-width": 3}, g);
  
  

  const title = make("text", {x: panel.x - 1, y: panel.titleY, "font-size": 35, textLength: panel.titleW, lengthAdjust: "spacingAndGlyphs"}, g);
  title.textContent = panel.title;
  
  

  if (panel.note) {
    const note = make("text", {x: panel.x + PANEL_W + 1, y: 38, "font-size": 35, "text-anchor": "end", textLength: panel.noteW, lengthAdjust: "spacingAndGlyphs"}, g);
    note.textContent = panel.note;
    
    
  }

  if (panel.x < 500) {
    latMajorTicks.forEach(function (lat, i) {
      const t = make("text", {x: 74, y: f(yScale(panel, lat) + 12), "font-size": 35, "text-anchor": "end", textLength: latTickLabels[i].length > 1 ? 63 : 19, lengthAdjust: "spacingAndGlyphs"}, g);
      t.textContent = latTickLabels[i];
      
      
    });
  }
  if (panel.lonLabels) {
    lonMajorTicks.forEach(function (lon, i) {
      const t = make("text", {x: f(xScale(panel, lon)), y: 940, "font-size": 35, "text-anchor": "middle"}, g);
      t.textContent = lonTickLabels[i];
      
      
    });
  }
});

/* colorbar */
const cb = document.getElementById("colorbar");
const CB_X = 230, CB_Y = 1003, CB_W = 603, CB_H = 23;
const cbStep = CB_W / colorbarLevels.length;
function cbScale(i) { return CB_X + i * cbStep; }
colorbarLevels.forEach(function (level, i) {
  const box = make("rect", {x: f(cbScale(i)), y: CB_Y, width: f(cbStep), height: CB_H, fill: levelColors[String(level)], stroke: "#111111", "stroke-width": 1.4}, cb);
  
  
});
colorbarLabels.forEach(function (label, i) {
  const t = make("text", {x: f(cbScale(i + 1)), y: 1054, "font-size": 30, "text-anchor": "middle"}, cb);
  t.textContent = label;
  
  
});
</script>
</body>
</html>
